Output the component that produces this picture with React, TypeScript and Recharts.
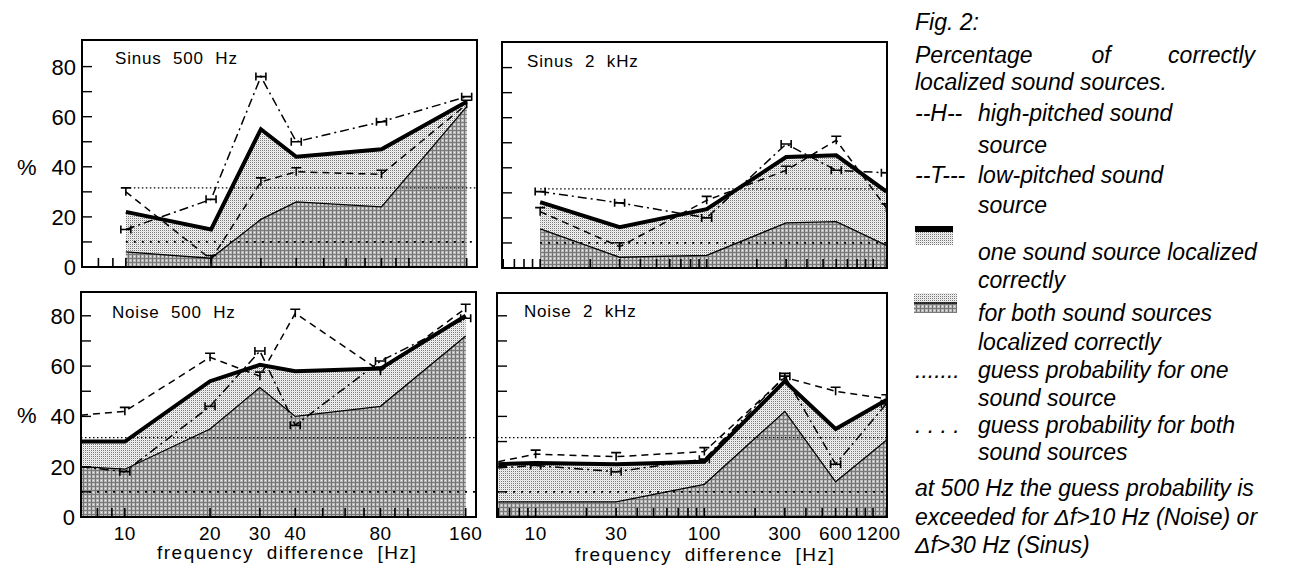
import { ComposedChart, Area, Line, XAxis, YAxis } from 'recharts'

// frequency difference (Hz) and percent values
const sinus500Freq = [10, 20, 30, 40, 80, 160]
const sinus500One = [22, 15, 55, 44, 47, 66]
const sinus500Both = [6, 3.5, 19, 26, 24, 64]
const sinus500High = [15, 27, 76, 50, 58, 68]
const sinus500Low = [30, 3, 34, 38, 37, 65]

const sinus2kFreq = [10, 30, 100, 300, 600, 1200]
const sinus2kOne = [26.3, 16.3, 23.5, 44.3, 45, 30.5]
const sinus2kBoth = [15.6, 4.3, 5, 18, 18.5, 9]
const sinus2kHigh = [30.5, 26, 20, 49.5, 39, 38]
const sinus2kLow = [22.5, 8.5, 27, 39, 51, 24]

const noise500Freq = [7, 10, 20, 30, 40, 80, 160]
const noise500One = [30, 30, 54, 60.5, 58, 59, 80]
const noise500Both = [20, 19, 35, 51.5, 40, 44, 72]
const noise500High = [20, 18, 44, 66, 36.5, 62, 79]
const noise500Low = [40.5, 42, 63.5, 56, 81, 58, 83]

const noise2kFreq = [6, 10, 30, 100, 300, 600, 1200]
const noise2kOne = [21, 21.5, 21, 22, 54, 35, 46.5]
const noise2kBoth = [6, 6, 6, 13, 42, 14, 30.5]
const noise2kHigh = [19.5, 20.5, 18, 23, 56, 21, 45]
const noise2kLow = [22, 25, 24, 26, 55.5, 50, 47]

const guessOne = 31.6
const guessBoth = 10

const yTicks = [0, 10, 20, 30, 40, 50, 60, 70, 80]
const yLabels = [0, 20, 40, 60, 80]
const ticks500 = [8, 9, 10, 20, 30, 40, 50, 60, 70, 80, 90, 100, 160]
const labels500 = [10, 20, 30, 40, 80, 160]
const ticks2k = [6, 7, 8, 9, 10, 20, 30, 40, 50, 60, 70, 80, 90, 100, 200, 300, 400, 500, 600, 700, 800, 900, 1000, 1200]
const labels2k = [10, 30, 100, 300, 600, 1200]

const FONT = '"Liberation Sans", Arial, Helvetica, sans-serif'

const panels = [
  { title: 'Sinus 500 Hz', freq: sinus500Freq, one: sinus500One, both: sinus500Both, high: sinus500High, low: sinus500Low,
    left: 82, top: 40, width: 395, height: 227, ppu: 2.505, domain: [7, 174], ticks: ticks500, labels: labels500,
    yLab: true, xLab: false, guessFrom: 10, tx: 115, ty: 63.5 },
  { title: 'Sinus 2 kHz', freq: sinus2kFreq, one: sinus2kOne, both: sinus2kBoth, high: sinus2kHigh, low: sinus2kLow,
    left: 502, top: 42, width: 385, height: 226, ppu: 2.505, domain: [5.9, 1210], ticks: ticks2k, labels: labels2k,
    yLab: false, xLab: false, guessFrom: 10, tx: 527, ty: 66.5 },
  { title: 'Noise 500 Hz', freq: noise500Freq, one: noise500One, both: noise500Both, high: noise500High, low: noise500Low,
    left: 81, top: 292, width: 395, height: 225, ppu: 2.515, domain: [7, 174], ticks: ticks500, labels: labels500,
    yLab: true, xLab: true, guessFrom: 7, tx: 112, ty: 318 },
  { title: 'Noise 2 kHz', freq: noise2kFreq, one: noise2kOne, both: noise2kBoth, high: noise2kHigh, low: noise2kLow,
    left: 497, top: 293, width: 390, height: 224, ppu: 2.515, domain: [5.9, 1210], ticks: ticks2k, labels: labels2k,
    yLab: false, xLab: true, guessFrom: 5.9, tx: 524, ty: 317 },
]

const YW = 50
const XH = 50
const MT = 6
const MR = 30

function XTick(props: any) {
  const { x, y, payload, labels, show } = props
  const v = payload.value
  return (
    <g>
      <line x1={x} x2={x} y1={y} y2={y - 9} stroke="#000" strokeWidth={1.6} />
      {show && labels.includes(v) && (
        <text x={x + (v === 1200 ? -8 : 0)} y={y + 23} textAnchor="middle" fontSize={19} fontFamily={FONT}
          letterSpacing={0.5} fill="#000">{v}</text>
      )}
    </g>
  )
}

function YTick(props: any) {
  const { x, y, payload, show } = props
  const v = payload.value
  return (
    <g>
      {v > 0 && <line x1={x} x2={x + 10} y1={y} y2={y} stroke="#000" strokeWidth={1.4} />}
      {show && yLabels.includes(v) && (
        <text x={x - 6} y={y + 8} textAnchor="end" fontSize={22} fontFamily={FONT} fill="#000">{v}</text>
      )}
    </g>
  )
}

function Marker({ cx, cy, kind, hide }: any) {
  if (hide || cx == null) return <g />
  if (kind === 'H') {
    return (
      <path d={`M${cx - 5},${cy - 4}v8M${cx + 5},${cy - 4}v8M${cx - 5},${cy}h10`} stroke="#000" strokeWidth={1.6} fill="none" />
    )
  }
  return <path d={`M${cx - 5},${cy - 4}h10M${cx},${cy - 4}v8`} stroke="#000" strokeWidth={1.6} fill="none" />
}

function Panel(p: any) {
  const rows = p.freq.map((f: number, i: number) => ({ f, one: p.one[i], both: p.both[i], high: p.high[i], low: p.low[i] }))
  const g1 = [{ f: p.guessFrom, g: guessOne }, { f: p.domain[1], g: guessOne }]
  const g2 = [{ f: p.guessFrom, g: guessBoth }, { f: p.domain[1], g: guessBoth }]
  const yMax = p.height / p.ppu
  return (
    <div style={{ position: 'absolute', left: p.left - YW, top: p.top - MT }}>
      <ComposedChart width={p.width + YW + MR} height={p.height + MT + XH} data={rows}
        margin={{ top: MT, right: MR, bottom: 0, left: 0 }}>
        <XAxis dataKey="f" type="number" scale="log" domain={p.domain} allowDataOverflow ticks={p.ticks} interval={0}
          height={XH} tickSize={0} tickMargin={0} axisLine={false} tickLine={false}
          tick={(t: any) => <XTick {...t} labels={p.labels} show={p.xLab} />} />
        <YAxis type="number" domain={[0, yMax]} allowDataOverflow ticks={yTicks} interval={0} width={YW}
          tickSize={0} tickMargin={0} axisLine={false} tickLine={false}
          tick={(t: any) => <YTick {...t} show={p.yLab} />} />
        <Area dataKey="one" type="linear" stroke="none" fill="url(#dotLight)" fillOpacity={1} isAnimationActive={false} />
        <Area dataKey="both" type="linear" stroke="#000" strokeWidth={1.3} fill="url(#meshDark)" fillOpacity={1}
          isAnimationActive={false} />
        <Line data={g1} dataKey="g" type="linear" stroke="#000" strokeWidth={1.3} strokeDasharray="1.5 2.5" dot={false}
          isAnimationActive={false} />
        <Line data={g2} dataKey="g" type="linear" stroke="#000" strokeWidth={1.8} strokeDasharray="2 6" dot={false}
          isAnimationActive={false} />
        <Line dataKey="one" type="linear" stroke="#000" strokeWidth={4} dot={false} isAnimationActive={false} />
        <Line dataKey="low" type="linear" stroke="#000" strokeWidth={1.5} strokeDasharray="7 5"
          dot={(d: any) => <Marker key={'t' + d.index} cx={d.cx} cy={d.cy} kind="T" hide={d.payload.f < 10} />}
          isAnimationActive={false} />
        <Line dataKey="high" type="linear" stroke="#000" strokeWidth={1.5} strokeDasharray="9 4 2 4"
          dot={(d: any) => <Marker key={'h' + d.index} cx={d.cx} cy={d.cy} kind="H" hide={d.payload.f < 10} />}
          isAnimationActive={false} />
      </ComposedChart>
    </div>
  )
}

const legendLines: [string, number, number][] = [
  ['Fig. 2:', 915, 30],
  ['localized sound sources.', 915, 90],
  ['--H--', 915, 121],
  ['high-pitched sound', 978, 121],
  ['source', 978, 153],
  ['--T---', 915, 183],
  ['low-pitched sound', 978, 183],
  ['source', 978, 213],
  ['one sound source localized', 978, 260],
  ['correctly', 978, 288],
  ['for both sound sources', 978, 321],
  ['localized correctly', 978, 350],
  ['.......', 915, 378],
  ['guess probability for one', 978, 378],
  ['sound source', 978, 406],
  ['. . . .', 915, 433],
  ['guess probability for both', 978, 433],
  ['sound sources', 978, 460],
  ['at 500 Hz the guess probability is', 915, 496],
  ['exceeded for \u0394f>10 Hz (Noise) or', 915, 525],
  ['\u0394f>30 Hz (Sinus)', 915, 553],
]

function Overlay() {
  return (
    <svg width={1307} height={569} style={{ position: 'absolute', left: 0, top: 0, pointerEvents: 'none' }}>
      {panels.map((p) => (
        <g key={p.title}>
          <rect x={p.left} y={p.top} width={p.width} height={p.height} fill="none" stroke="#000" strokeWidth={2} />
          <text x={p.tx} y={p.ty} fontSize={17} fontFamily={FONT} letterSpacing={0.8} wordSpacing={6} fill="#000">{p.title}</text>
        </g>
      ))}
      <text x={17} y={175} fontSize={22} fontFamily={FONT} fill="#000">%</text>
      <text x={17} y={423} fontSize={22} fontFamily={FONT} fill="#000">%</text>
      <text x={157} y={559} fontSize={19} fontFamily={FONT} letterSpacing={1.5} wordSpacing={6} fill="#000">frequency difference [Hz]</text>
      <text x={575} y={561} fontSize={19} fontFamily={FONT} letterSpacing={1.5} wordSpacing={6} fill="#000">frequency difference [Hz]</text>

      <g fontFamily={FONT} fontStyle="italic" fontSize={23} fill="#000">
        <text x={915} y={63}>Percentage</text>
        <text x={1101} y={63} textAnchor="middle">of</text>
        <text x={1255} y={63} textAnchor="end">correctly</text>
        {legendLines.map(([t, x, y], i) => (
          <text key={i} x={x} y={y}>{t}</text>
        ))}
      </g>
      <rect x={915} y={226} width={38} height={6} fill="#000" />
      <rect x={915} y={232} width={38} height={13} fill="url(#dotLight)" />
      <rect x={914} y={293} width={43} height={10} fill="url(#dotLight)" />
      <rect x={914} y={303} width={43} height={10} fill="url(#meshDark)" />
      <line x1={914} x2={957} y1={303} y2={303} stroke="#000" strokeWidth={1.5} />
    </svg>
  )
}

function Patterns() {
  return (
    <svg width={0} height={0} style={{ position: 'absolute' }}>
      <defs>
        <pattern id="dotLight" width={2} height={2} patternUnits="userSpaceOnUse">
          <rect width={2} height={2} fill="#f4f4f4" />
          <rect width={1} height={1} fill="#777777" />
          <rect x={1} y={1} width={1} height={1} fill="#dddddd" />
        </pattern>
        <pattern id="meshDark" width={4} height={4} patternUnits="userSpaceOnUse">
          <rect width={4} height={4} fill="#bcbcbc" />
          <rect width={1} height={4} fill="#707070" />
          <rect width={4} height={1} fill="#7a7a7a" />
          <rect x={2} y={2} width={1} height={1} fill="#eeeeee" />
        </pattern>
      </defs>
    </svg>
  )
}

export default function App() {
  return (
    <div style={{ position: 'absolute', left: 0, top: 0, width: 1307, height: 569, background: '#fff', overflow: 'hidden' }}>
      <Patterns />
      {panels.map((p) => (
        <Panel key={p.title} {...p} />
      ))}
      <Overlay />
    </div>
  )
}
